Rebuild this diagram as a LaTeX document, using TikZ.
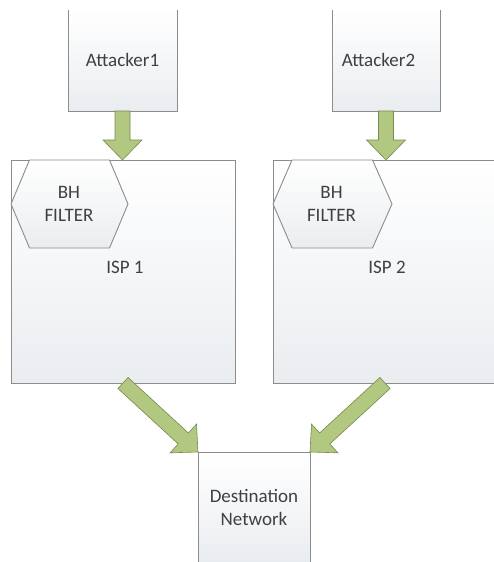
\documentclass[tikz,border=0pt]{standalone}
\usepackage{fontspec}
\setmainfont{Carlito}
\usetikzlibrary{calc}
\definecolor{boxline}{RGB}{140,140,140}
\definecolor{boxbot}{RGB}{234,237,240}
\definecolor{arrfill}{RGB}{178,199,128}
\definecolor{arrline}{RGB}{118,138,78}
\definecolor{txtc}{RGB}{64,64,64}
\newcommand\fatarrow[2]{%
  \path (#1) coordinate (fas) (#2) coordinate (fat);
  \coordinate (fab) at ($(fat)!20pt!(fas)$);
  \filldraw[fatarr] ($(fas)!7.5pt!90:(fat)$) -- ($(fab)!7.5pt!90:(fat)$)
    -- ($(fab)!19.5pt!90:(fat)$) -- (fat) -- ($(fab)!19.5pt!-90:(fat)$)
    -- ($(fab)!7.5pt!-90:(fat)$) -- ($(fas)!7.5pt!-90:(fat)$) -- cycle;}
\begin{document}
\begin{tikzpicture}[x=1pt,y=-1pt,
  box/.style={draw=boxline, line width=0.9pt, top color=white, bottom color=boxbot,
    inner sep=0pt, outer sep=0pt, font=\fontsize{19}{23}\selectfont, text=txtc, align=center},
  lbl/.style={inner sep=0pt, font=\fontsize{19}{23}\selectfont, text=txtc, align=center},
  hexa/.style={draw=boxline, line width=0.9pt, top color=white, bottom color=boxbot},
  fatarr/.style={fill=arrfill, draw=arrline, line width=0.6pt, line join=miter}]
\useasboundingbox (0,0) rectangle (494,562);
\begin{scope}
\clip (10,10) rectangle (494,562);
% boxes
\node[box, minimum width=109pt, minimum height=102pt] (a1) at (122.5,60) {Attacker1};
\node[box, minimum width=108pt, minimum height=102pt] (a2) at (386,60) {};
\node[lbl] (a2t) at (378.5,60) {Attacker2};
\node[box, minimum width=224pt, minimum height=223pt] (isp1) at (123,271.5) {};
\node[box, minimum width=224pt, minimum height=223pt] (isp2) at (385,271.5) {};
\node[box, minimum width=112pt, minimum height=110pt] (dest) at (254,507) {Destination\\Network};
% hexagons
\path[hexa] (11,204) -- (29.5,160) -- (109.5,160) -- (128,204) -- (109.5,248) -- (29.5,248) -- cycle;
\node[lbl] (f1) at (69,204) {BH\\FILTER};
\path[hexa] (273,204) -- (292,160) -- (372.5,160) -- (392,204) -- (372.5,248) -- (292,248) -- cycle;
\node[lbl] (f2) at (331.5,204) {BH\\FILTER};
\node[lbl] (i1) at (125,267) {ISP 1};
\node[lbl] (i2) at (387,267) {ISP 2};
% arrows
\fatarrow{a1.south}{a1.south |- isp1.north}
\fatarrow{a2.south}{a2.south |- isp2.north}
\fatarrow{isp1.south}{dest.north west}
\fatarrow{isp2.south}{dest.north east}
\end{scope}
\end{tikzpicture}
\end{document}
